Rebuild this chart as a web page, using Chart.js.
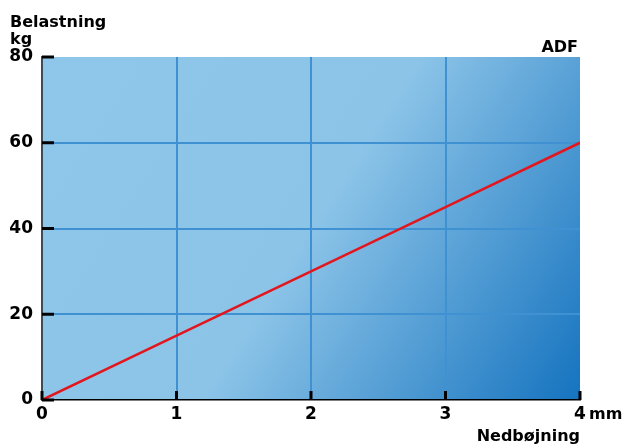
<!DOCTYPE html>
<html>
<head>
<meta charset="utf-8">
<script src="https://cdn.jsdelivr.net/npm/chart.js@4/dist/chart.umd.min.js"></script>
<style>
  html, body { margin: 0; padding: 0; background: #fff; }
  #wrap { width: 627px; height: 445px; }
</style>
</head>
<body>
<div id="wrap"><canvas id="mycanvas" width="627" height="445"></canvas></div>
<script>
// data
var deflection = [0, 1, 2, 3, 4];       // mm
var load = [0, 15, 30, 45, 60];         // kg
var xTicks = [0, 1, 2, 3, 4];
var yTicks = [0, 20, 40, 60, 80];

var points = [];
for (var i in deflection) {
  points.push({x: deflection[i], y: load[i]});
}

var font = "'DejaVu Sans', sans-serif";

// gradient background of the plot area
var bgPlugin = {
  id: 'bg',
  beforeDraw: function(chart) {
    var c = chart.ctx, a = chart.chartArea;
    var g = c.createLinearGradient(a.left, a.top, a.right, a.bottom);
    g.addColorStop(0, '#8fc7ea');
    g.addColorStop(0.5, '#8cc4e8');
    g.addColorStop(1, '#1573bf');
    c.save();
    c.fillStyle = g;
    c.fillRect(a.left, a.top, a.right - a.left, a.bottom - a.top);
    c.restore();
  }
};

// black inward ticks and text labels
var decoPlugin = {
  id: 'deco',
  afterDraw: function(chart) {
    var c = chart.ctx, a = chart.chartArea;
    var xs = chart.scales.x, ys = chart.scales.y;
    c.save();
    c.fillStyle = '#000';
    xTicks.forEach(function(v) {
      var px = xs.getPixelForValue(v);
      c.fillRect(px - 1.5, a.bottom - 9, 3, 9);
    });
    yTicks.forEach(function(v) {
      var py = ys.getPixelForValue(v);
      c.fillRect(a.left, py - 1.5, 12, 3);
    });
    c.font = 'bold 16px ' + font;
    c.textBaseline = 'alphabetic';
    c.textAlign = 'left';
    c.fillText('Belastning', 10, 27);
    c.fillText('kg', 10, 44);
    c.textAlign = 'right';
    c.fillText('ADF', 578, 52);
    c.fillText('Nedbøjning', 580, 441);
    c.textAlign = 'left';
    c.fillText('mm', 589, 419);
    c.restore();
  }
};

var chartdata = {
  datasets: [
    {
      label: 'ADF',
      data: points,
      borderColor: '#e3161e',
      borderWidth: 2.5,
      pointRadius: 0,
      fill: false,
      tension: 0
    }
  ]
};

var ctx = document.getElementById('mycanvas');

var lineGraph = new Chart(ctx, {
  type: 'line',
  data: chartdata,
  plugins: [bgPlugin, decoPlugin],
  options: {
    responsive: false,
    animation: false,
    layout: { padding: { top: 57, right: 47, left: 0, bottom: 0 } },
    plugins: { legend: { display: false }, tooltip: { enabled: false } },
    scales: {
      x: {
        type: 'linear',
        min: 0,
        max: 4,
        afterFit: function(s) { s.height = 45; },
        afterBuildTicks: function(s) { s.ticks = xTicks.map(function(v) { return {value: v}; }); },
        grid: {
          drawTicks: false,
          lineWidth: 2,
          color: function(c) { return (c.tick && (c.tick.value === 0 || c.tick.value === 4)) ? 'rgba(0,0,0,0)' : '#3f91d2'; }
        },
        border: { color: '#000', width: 1.5 },
        ticks: { color: '#000', padding: 4, font: { family: font, weight: 'bold', size: 17 } }
      },
      y: {
        min: 0,
        max: 80,
        afterFit: function(s) { s.width = 42; },
        afterBuildTicks: function(s) { s.ticks = yTicks.map(function(v) { return {value: v}; }); },
        grid: {
          drawTicks: false,
          lineWidth: 2,
          color: function(c) { return (c.tick && (c.tick.value === 0 || c.tick.value === 80)) ? 'rgba(0,0,0,0)' : '#3f91d2'; }
        },
        border: { color: '#3e4c5a', width: 2 },
        ticks: { color: '#000', padding: 9, font: { family: font, weight: 'bold', size: 17 } }
      }
    }
  }
});
</script>
</body>
</html>
